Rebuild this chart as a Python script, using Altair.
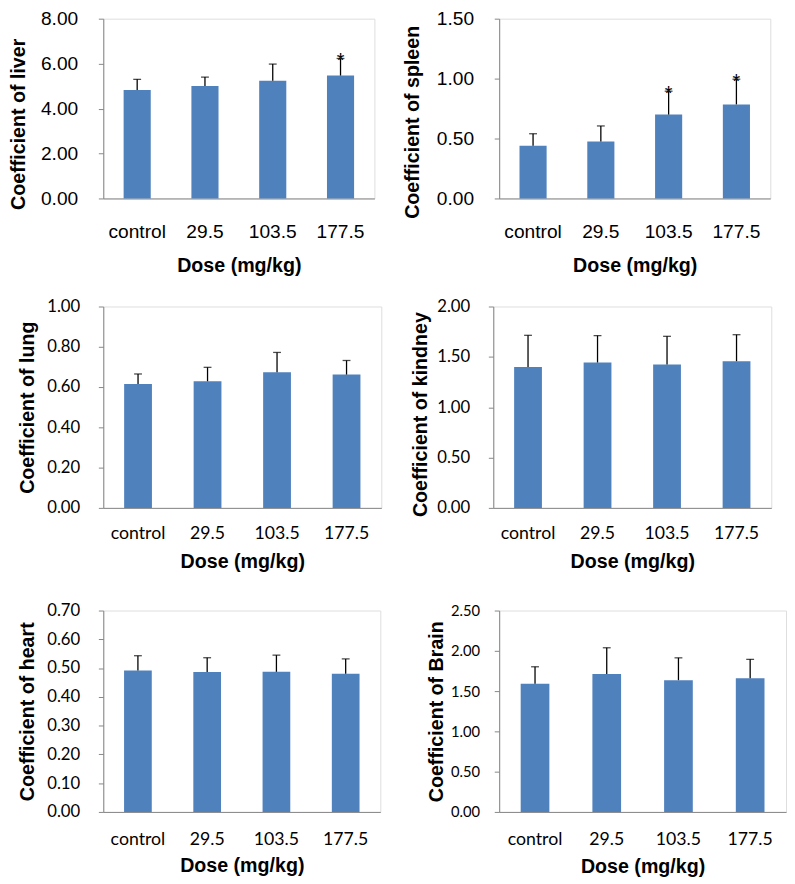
import altair as alt
import pandas as pd

categories = ["control", "29.5", "103.5", "177.5"]

liver_mean = [4.83, 5.00, 5.24, 5.47]
liver_sd = [0.47, 0.40, 0.74, 0.76]
liver_sig = ["", "", "", "*"]
liver_ticks = [0, 2, 4, 6, 8]

spleen_mean = [0.44, 0.475, 0.70, 0.785]
spleen_sd = [0.10, 0.13, 0.195, 0.21]
spleen_sig = ["", "", "*", "*"]
spleen_ticks = [0, 0.5, 1.0, 1.5]

lung_mean = [0.615, 0.629, 0.673, 0.662]
lung_sd = [0.05, 0.069, 0.099, 0.07]
lung_sig = ["", "", "", ""]
lung_ticks = [0, 0.2, 0.4, 0.6, 0.8, 1.0]

kidney_mean = [1.40, 1.444, 1.424, 1.457]
kidney_sd = [0.314, 0.267, 0.28, 0.263]
kidney_sig = ["", "", "", ""]
kidney_ticks = [0, 0.5, 1.0, 1.5, 2.0]

heart_mean = [0.492, 0.486, 0.487, 0.480]
heart_sd = [0.051, 0.050, 0.058, 0.052]
heart_sig = ["", "", "", ""]
heart_ticks = [0, 0.1, 0.2, 0.3, 0.4, 0.5, 0.6, 0.7]

brain_mean = [1.592, 1.712, 1.636, 1.66]
brain_sd = [0.21, 0.326, 0.277, 0.234]
brain_sig = ["", "", "", ""]
brain_ticks = [0, 0.5, 1.0, 1.5, 2.0, 2.5]

BLUE = "#4F81BD"
GRAY = "#868686"
ARIAL = "Liberation Sans"
CALIBRI = "Lato"


def panel(ytitle, mean, sd, sig, ticks, w, h, s):
    df = pd.DataFrame({"dose": categories, "mean": mean, "sd": sd, "sig": sig})
    df["upper"] = df["mean"] + df["sd"]
    xaxis = alt.Axis(
        title="Dose (mg/kg)", labelAngle=0, ticks=False, tickSize=0,
        domainColor=GRAY, labelFont=s["xfont"], labelFontSize=s["xsize"],
        labelColor="black", labelPadding=s["xlp"], labelBaseline="alphabetic",
        titleFont=ARIAL, titleFontSize=20, titleFontWeight="bold",
        titleColor="black", titleY=s["xty"], titleBaseline="alphabetic",
    )
    yaxis = alt.Axis(
        title=ytitle, values=ticks, format=".2f", grid=False,
        domainColor=GRAY, tickColor=GRAY, tickSize=5,
        labelFont=s["yfont"], labelFontSize=s["ysize"], labelColor="black",
        labelPadding=s["ylp"],
        titleFont=ARIAL, titleFontSize=20, titleFontWeight="bold",
        titleColor="black", titleX=s["ytx"], titleY=s.get("yty", h / 2),
        titleAngle=270, titleAlign="center", titleBaseline="middle",
    )
    xscale = alt.Scale(paddingInner=0.6, paddingOuter=0.3)
    yscale = alt.Scale(domain=[ticks[0], ticks[-1]], nice=False, zero=True)
    x = alt.X("dose:N", sort=categories, scale=xscale, axis=xaxis)
    base = alt.Chart(df)
    bars = base.mark_bar(color=BLUE).encode(
        x=x, y=alt.Y("mean:Q", scale=yscale, axis=yaxis))
    rule = base.mark_rule(color="black", strokeWidth=1.3).encode(
        x=x, y=alt.Y("mean:Q", scale=yscale, axis=yaxis), y2="upper:Q")
    cap = base.mark_tick(color="black", size=8, thickness=1.3,
                         orient="horizontal").encode(
        x=x, y=alt.Y("upper:Q", scale=yscale, axis=yaxis))
    star = base.mark_text(font=ARIAL, fontSize=20, baseline="alphabetic",
                          dy=9, color="black").encode(
        x=x, y=alt.Y("upper:Q", scale=yscale, axis=yaxis), text="sig:N")
    return alt.layer(bars, rule, cap, star).properties(width=w, height=h)


arial_style = dict(xfont=ARIAL, xsize=19.5, xlp=40, xty=74,
                   yfont=ARIAL, ysize=19.5, ylp=21)
cal_style = dict(xfont=CALIBRI, xsize=18, xlp=31, xty=61,
                 yfont=CALIBRI, ysize=17, ylp=19)

p1 = panel("Coefficient of liver", liver_mean, liver_sd, liver_sig,
           liver_ticks, 276, 183, dict(arial_style, ytx=-86, yty=107))
p2 = panel("Coefficient of spleen", spleen_mean, spleen_sd, spleen_sig,
           spleen_ticks, 276, 183, dict(arial_style, ytx=-88.5, yty=105))
p3 = panel("Coefficient of lung", lung_mean, lung_sd, lung_sig,
           lung_ticks, 283, 205, dict(cal_style, ytx=-77))
p4 = panel("Coefficient of kindney", kidney_mean, kidney_sd, kidney_sig,
           kidney_ticks, 283, 205, dict(cal_style, ytx=-74, yty=109.5))
p5 = panel("Coefficient of heart", heart_mean, heart_sd, heart_sig,
           heart_ticks, 282, 205, dict(cal_style, ytx=-77, xlp=33))
p6 = panel("Coefficient of Brain", brain_mean, brain_sd, brain_sig,
           brain_ticks, 292, 205,
           dict(cal_style, ytx=-64, xlp=33, xty=62, ysize=15, ylp=15))

row1 = alt.hconcat(p1, p2, spacing=27)
row2 = alt.hconcat(p3, p4, spacing=28)
row3 = alt.hconcat(p5, p6, spacing=45)

chart = alt.vconcat(row1, alt.vconcat(row2, row3, spacing=28.5), spacing=21).properties(
    padding={"left": 0, "top": -8, "right": 0, "bottom": 0}
).configure_view(stroke=None).configure(background="white")

chart.save("out.html", embed_options={"renderer": "svg", "actions": False})
